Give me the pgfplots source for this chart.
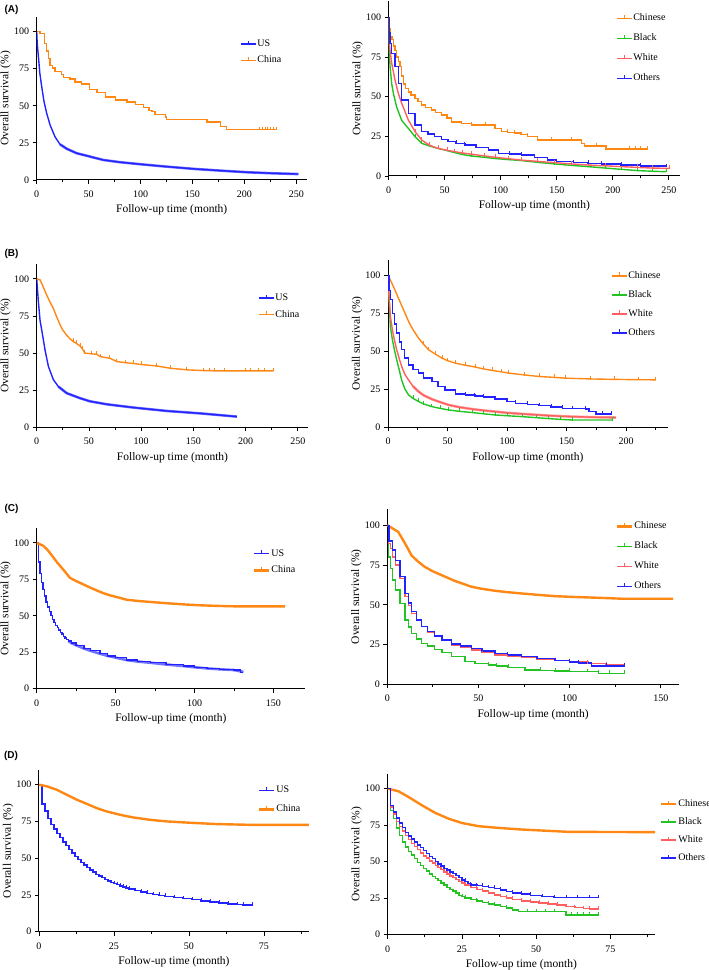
\documentclass[border=0pt]{standalone}
\usepackage{fontspec}
\setmainfont{Liberation Serif}
\newfontfamily\labelsans{Liberation Sans}
\usepackage{pgfplots}
\pgfplotsset{compat=1.18}
\definecolor{kmblue}{RGB}{35,35,255}
\definecolor{kmorange}{RGB}{255,135,20}
\definecolor{kmgreen}{RGB}{35,195,35}
\definecolor{kmred}{RGB}{255,95,95}
\pgfplotsset{
  km/.style={
    scale only axis, anchor=south west,
    axis lines*=left,
    axis line style={line width=1pt, black},
    xmin=0, ymin=0, ymax=110,
    ytick={0,25,50,75,100},
    minor x tick num=1,
    tick align=outside, tick pos=left,
    major tick length=4pt, minor tick length=2.5pt,
    tick style={black, line width=0.8pt},
    /pgf/number format/assume math mode=true,
    ticklabel style={font=\fontsize{10}{12}\selectfont},
    xticklabel style={yshift=-3.5pt},
    xlabel={Follow-up time (month)},
    ylabel={Overall survival (\%)},
    label style={font=\fontsize{11.5}{13}\selectfont},
    xlabel style={at={([yshift=-30pt]axis description cs:0.5,0)}, anchor=center},
    ylabel style={at={([xshift=-31pt]axis description cs:0,0.5)}, anchor=center},
    legend cell align=left,
    legend style={draw=none, fill=none, inner sep=0pt, outer sep=0pt, anchor=north west,
      font=\fontsize{10}{12}\selectfont, nodes={inner sep=1pt, text height=7pt, text depth=2pt}},
    legend image code/.code={
      \draw[#1, mark=none, solid] (0pt,0pt) -- (15pt,0pt);
      \draw[#1, mark=none, solid, line width=0.9pt] (7.5pt,0pt) -- (7.5pt,3.5pt);},
    every axis plot/.append style={line width=1.4pt},
  },
  cens/.style={mark=|, mark repeat=1, mark phase=#1, mark size=1.8pt,
    mark options={solid, line width=0.8pt, yshift=1.2pt}},
}
\begin{document}
\begin{tikzpicture}
\useasboundingbox (0,0) rectangle (709pt,970pt);
\node[font=\labelsans\bfseries\fontsize{10}{12}\selectfont] at (11.5pt,960.5pt) {(A)};
\node[font=\labelsans\bfseries\fontsize{10}{12}\selectfont] at (11.5pt,716.5pt) {(B)};
\node[font=\labelsans\bfseries\fontsize{10}{12}\selectfont] at (11.5pt,461.5pt) {(C)};
\node[font=\labelsans\bfseries\fontsize{10}{12}\selectfont] at (11pt,214pt) {(D)};

% ---------------- A left
\begin{axis}[km, at={(36.7pt,790pt)}, width=270pt, height=163.3pt, xmax=260, xtick distance=50,
  legend style={at={(axis description cs:0.753,0.866)}, row sep=5.3pt}]
\addplot[kmblue!65, line width=2.6pt, forget plot] coordinates {(22.5,24)(29,21)(38.6,18)(50,16)(64,13.5)(80,12)(100,10.6)(125,9)(151,7.5)(177,6.3)(203,5.2)(228,4.5)(252,4)};
\addplot[kmblue] coordinates {(0,100)(0.5,92)(1.6,83.5)(3,72)(4.8,63)(7,53)(9.6,45)(12.9,37)(17.7,29)(22.5,24)(29,21)(38.6,18)(50,16)(64,13.5)(80,12)(100,10.6)(125,9)(151,7.5)(177,6.3)(203,5.2)(228,4.5)(252,4)};
\addlegendentry{US}
\addplot[kmorange, const plot, cens=29] coordinates {(0,100)(3,98.6)(7.4,92)(9.6,87)(11.3,82)(12.9,77)(15.4,75.5)(17.7,73)(24,71)(25.7,69)(32,68)(37,66)(43,64.6)(51,61)(58,59)(66,56)(76,54)(87,52.5)(95,51)(103,49)(108,47)(111,46)(114,44)(124,42.5)(125,40.6)(164,39)(177,36)(183,34)(214,34)(217,34)(220,34)(222,34)(225,34)(228,34)(231,34)};
\addlegendentry{China}
\end{axis}

% ---------------- A right
\begin{axis}[km, at={(388.7pt,794pt)}, width=291.3pt, height=174.6pt, xmax=260, xtick distance=50,
  legend style={at={(axis description cs:0.78,0.935)}, row sep=9pt}]
\addplot[kmorange, const plot, cens=14] coordinates {(0,100)(0.5,93)(1.2,88)(3,86)(4.5,82)(5.6,79)(7,75)(8.5,72)(10,69)(11.5,63)(13,58)(15,55)(17.5,53)(20,51)(23.5,49)(26,47)(29.4,44.7)(33,43)(38,41.6)(42,40)(47,38.4)(52,36.5)(56,34)(65,33)(74,32)(86,32)(95,30)(100.6,28)(106,27.5)(112.5,27)(118,26)(124,25)(133,22.7)(145,22.7)(163,22.7)(172,20.6)(175,19)(185,19)(194,17)(215,17)(220,17)(225,17)(231,17)};
\addlegendentry{Chinese}
\addplot[kmgreen, cens=9] coordinates {(0,100)(0.5,80)(1.2,69)(2.7,58)(4.2,52)(7,43.7)(11.6,35)(17.5,30)(23.5,24.8)(29.4,20.6)(36,19)(44,17.4)(52,16)(59,14.7)(66,13.5)(74,12.6)(85,11.8)(95,11)(107,10.3)(118.5,9.7)(133,8.6)(148,7.6)(163,6.7)(178,5.9)(193,5)(207.5,4.2)(222,3.4)(235,3)(247.6,2.7)};
\addlegendentry{Black}
\addplot[kmred, cens=9] coordinates {(0,100)(0.5,85)(1.2,79)(2.7,71)(5.6,60.5)(8.6,52)(11.6,45.8)(17.5,35.3)(23.5,28)(29.4,22.7)(36,19.5)(44,17.4)(52,16.2)(59,15.3)(66,14.5)(74,13.7)(85,12.7)(95,11.8)(107,10.9)(118.5,10)(133,9.2)(148,8.4)(163,7.6)(178,6.9)(193,6.4)(207.5,5.9)(222,5.4)(235,5)(250.6,4.8)};
\addlegendentry{White}
\addplot[kmblue, const plot, cens=9] coordinates {(0,100)(0.5,90)(1.2,83.6)(2.7,77)(5.6,69)(8.6,58.4)(11.6,47.9)(17.5,39.5)(23.5,32)(29.4,28)(35,26.5)(41,24.8)(47,23)(53,21.6)(60,20.5)(68,19.5)(78,18)(89,16.4)(98,14.3)(108,13.8)(118.5,13.2)(130,11.8)(142,10)(150,9)(165,8.5)(178,8)(190,7.5)(207.5,6.9)(225,6.4)(248,5.9)};
\addlegendentry{Others}
\end{axis}

% ---------------- B left
\begin{axis}[km, at={(36.7pt,542.7pt)}, width=271.6pt, height=163.3pt, xmax=260, xtick distance=50,
  legend style={at={(axis description cs:0.815,0.8245)}, row sep=5.6pt}]
\addplot[kmblue!65, line width=2.6pt, forget plot] coordinates {(20.8,27.4)(28.7,23)(41.5,19.6)(51,17.5)(67,15.5)(92.6,13.3)(124.5,11)(156,9.4)(191.6,7.2)};
\addplot[kmblue] coordinates {(0,100)(1.6,84.7)(3.2,72)(4.8,65.6)(8,52)(11.2,41)(16,32)(20.8,27.4)(28.7,23)(41.5,19.6)(51,17.5)(67,15.5)(92.6,13.3)(124.5,11)(156,9.4)(191.6,7.2)};
\addlegendentry{US}
\addplot[kmorange, cens=12] coordinates {(0,100)(3.2,99.3)(6,95)(9.6,89)(13,84)(16,80)(19,74.6)(22.4,69)(25,65.5)(28.7,62)(32,59.5)(35,57.8)(38,56.5)(41.5,54.8)(44,52.5)(46,50)(52,49.5)(57.5,49.2)(60.7,47.6)(70,46.5)(76.6,44.3)(85,43.5)(92.6,43)(100,42.3)(115,41.3)(127.7,39.8)(143.7,38.7)(160,38.2)(165,38.2)(170,38)(180,38)(200,38)(205,38)(212,38)(218,38)(226.7,38)};
\addlegendentry{China}
\end{axis}

% ---------------- B right
\begin{axis}[km, at={(388pt,542.7pt)}, width=279.7pt, height=167.3pt, xmax=235, xtick distance=50,
  legend style={at={(axis description cs:0.797,0.938)}, row sep=8pt}]
\addplot[kmorange, cens=11] coordinates {(0,100)(3.1,95)(6,90)(8.7,85)(11.5,80)(14.3,75)(16.5,71)(18.6,67.5)(22,63)(25.6,58.7)(30,54.5)(34,51)(40,48)(45.3,45.5)(50,43.8)(56.5,42.2)(65,40.8)(73.4,39.6)(80,38.4)(87.5,37.4)(95,36.5)(101.5,35.6)(115,34.4)(126.9,33.4)(140,32.8)(149,32.3)(170,31.8)(190,31.5)(210,31.3)(225,31.2)};
\addlegendentry{Chinese}
\addplot[kmgreen, cens=11] coordinates {(0,100)(0.8,86)(2,66)(3.7,57.6)(5.5,50.5)(7.3,44.4)(9.5,37.5)(11.5,31)(14,25.5)(17.2,21.3)(21,19)(25.6,17)(30,15.3)(36.8,13.6)(44,12.4)(51,11.4)(60,10.5)(70.6,9.7)(80,8.9)(90.3,8.1)(100,7.6)(112.8,7)(125,6.3)(135,5.7)(145,5.2)(155,4.8)(188.7,4.8)};
\addlegendentry{Black}
\addplot[kmred!60, line width=2.6pt, forget plot] coordinates {(21,27)(25.6,23.5)(30,21)(36.8,18.5)(44,16.5)(51,14.7)(60,13.2)(70.6,12)(80,11.1)(90.3,10.3)(100,9.5)(112.8,8.8)(125,8.2)(135,7.7)(145,7.3)(155,7)(170,6.7)(191.6,6.4)};
\addplot[kmred] coordinates {(0,100)(0.8,88)(2,73)(3.7,64)(5.5,57)(7.3,51)(9.5,45)(11.5,40)(14,35)(17.2,31.2)(21,27)(25.6,23.5)(30,21)(36.8,18.5)(44,16.5)(51,14.7)(60,13.2)(70.6,12)(80,11.1)(90.3,10.3)(100,9.5)(112.8,8.8)(125,8.2)(135,7.7)(145,7.3)(155,7)(170,6.7)(191.6,6.4)};
\addlegendentry{White}
\addplot[kmblue, const plot, cens=11] coordinates {(0,100)(0.8,90)(2,84)(3.7,75)(5.5,68)(7.3,62)(9.5,56)(11.5,51)(14,45.5)(17.2,41)(21,38)(25.6,35.6)(30,32.5)(36.8,30)(42,27)(48,24.6)(56.5,22)(65,21.2)(73,20.7)(80,19.8)(90,18.5)(100,17)(107,15.8)(117,15)(127,14.3)(137,13.4)(146.6,12.5)(155,12.2)(166,12)(169,10.3)(174.7,8.8)(180,8.8)(187.3,8.8)};
\addlegendentry{Others}
\end{axis}

% ---------------- C left
\begin{axis}[km, at={(36.7pt,281.3pt)}, width=268.3pt, height=160.4pt, xmax=170, xtick distance=50,
  legend style={at={(axis description cs:0.806,0.876)}, row sep=5.7pt}]
\addplot[kmblue!65, line width=2.6pt, forget plot] coordinates {(20,32.8)(22,31.3)(25,29.8)(30,27.5)(34,26)(40,24)(45,22.5)(50,21.3)(57,19.6)(64,18.6)(72,17.8)(82,16.6)(93,15.5)(100,14.7)(108,13.9)(116,13.3)(125,12.8)(131,11.5)};
\addplot[kmblue, const plot] coordinates {(0,100)(1,86.8)(2,79)(3,73)(4,68)(5,63.5)(6,59.5)(7,56)(8,53)(9,50)(10,47.5)(11,45.5)(12,43.5)(13,41.8)(14,40.2)(15,38.7)(16,37.4)(17,36)(18,34.8)(19,33.7)(20,32.8)(22,31.3)(25,29.8)(30,27.5)(34,26)(40,24)(45,22.5)(50,21.3)(57,19.6)(64,18.6)(72,17.8)(82,16.6)(93,15.5)(100,14.7)(108,13.9)(116,13.3)(125,12.8)(129,11)(131,11)};
\addlegendentry{US}
\addplot[kmorange, line width=2.4pt] coordinates {(0,100)(4.2,98)(7,95)(10.6,90)(13,86.5)(15.8,83)(18.5,79.5)(21.1,76)(25,73.8)(29.6,71.5)(34,69.3)(38,67.4)(42,65.6)(46.5,64)(52,62.5)(57,61)(64,60.2)(71.8,59.5)(80,58.8)(86.6,58.3)(95,57.7)(103.5,57.2)(114,56.8)(124.7,56.5)(157.4,56.5)};
\addlegendentry{China}
\end{axis}

% ---------------- C right
\begin{axis}[km, at={(387.3pt,285.7pt)}, width=291.7pt, height=175pt, xmax=160, xtick distance=50,
  legend style={at={(axis description cs:0.784,0.934)}, row sep=9pt}]
\addplot[kmorange, line width=2.4pt] coordinates {(0,100)(6,95.8)(10,88)(13.3,81)(17,77)(20.6,73.8)(25,71)(29.8,68.6)(33,67)(37,65)(42,63)(46.2,61.3)(52,60)(59,58.8)(66,57.9)(73.6,57.1)(83,56.2)(92,55.4)(100,55)(110,54.6)(120,54.2)(128.4,53.8)(156.8,53.8)};
\addlegendentry{Chinese}
\addplot[kmgreen, const plot, cens=13] coordinates {(0,100)(0.5,80)(1.6,72.8)(2.9,65.5)(4.6,59.2)(7,50.8)(9.7,40.4)(11.5,36)(13.3,32)(16,28.5)(18.8,25.7)(22,24)(26,22)(30,19.8)(35.3,17.4)(42.6,14.2)(48,13)(55.4,12.1)(60,11.5)(66.3,10.7)(75.5,9)(84,8.7)(92,8.4)(100,8.1)(110,7.9)(115.7,6.9)(122,6.9)(130,6.9)};
\addlegendentry{Black}
\addplot[kmred, const plot, cens=12] coordinates {(0,100)(0.5,88.5)(1.6,85.4)(2.9,80)(4.6,74.9)(7,66.5)(9.7,55)(11.5,49.5)(13.3,44.6)(16,40)(18.8,36.2)(22,32.8)(26,29.9)(30,27.5)(35.3,24.7)(40,23)(46.2,21.5)(52,20)(59,18.4)(66,17.6)(73.6,16.7)(82,15.8)(92,14.9)(100,14.1)(110,13.2)(120,12.4)(130,11.7)};
\addlegendentry{White}
\addplot[kmblue, const plot, cens=11] coordinates {(0,100)(1,90)(2.9,84.3)(4.6,78)(7,67.6)(9.7,57)(11.5,51)(13.3,45.6)(16,40.5)(18.8,36.2)(22,33)(26,30.3)(30,27.8)(35.3,25.3)(40,24)(46.2,22.6)(52,21)(59,19.5)(66,18.5)(73.6,17.4)(82,16.2)(92,14.9)(100,14)(105,13.5)(112,11.5)(120,11.5)(130,11.5)};
\addlegendentry{Others}
\end{axis}

% ---------------- D left
\begin{axis}[km, at={(39pt,38.3pt)}, width=270pt, height=161.7pt, xmax=90, xtick distance=25,
  legend style={at={(axis description cs:0.811,0.908)}, row sep=8pt}]
\addplot[kmblue, const plot, cens=26] coordinates {(0,100)(1,87)(2,82)(3,77)(4,73)(5,70)(6,67)(7,64)(8,61)(9,58.5)(10,56)(11,53.5)(12,51)(13,49)(14,47)(15,45.5)(16,43.5)(17,42)(18,40.5)(19,39)(20,38)(21,36.7)(22,35.5)(23,34.5)(24,33.5)(25,32.7)(26,32)(27,31)(28,30.3)(29,29.6)(30,29)(32,28)(34,27)(36,26)(38,25.3)(40,24.7)(42,24)(45,23.2)(48,22.4)(51,21.8)(54,21)(57,20.3)(60,19.6)(63,18.9)(66,18.3)(68,18.2)(71,18.2)};
\addlegendentry{US}
\addplot[kmorange, line width=2.4pt] coordinates {(0,100)(2.6,98.9)(5.9,96.6)(9.2,93.2)(12.6,89.8)(15.9,87)(19.3,84)(22.6,81.8)(27.1,79.5)(31.5,77.7)(37.1,76.1)(42.7,75)(50.5,74.1)(59.4,73.2)(70.5,72.7)(90,72.7)};
\addlegendentry{China}
\end{axis}

% ---------------- D right
\begin{axis}[km, at={(387.7pt,35.3pt)}, width=267.3pt, height=160.7pt, xmax=90, xtick distance=25,
  legend style={at={(axis description cs:1.019,0.847)}, row sep=7pt}]
\addplot[kmorange, line width=2.4pt] coordinates {(0,100)(3.6,98.2)(7,94.3)(11.5,88.6)(16,83.4)(20.4,79.5)(24.9,76.5)(30.5,74.3)(37.3,73.1)(45.1,72)(51.9,71.3)(60.9,70.4)(90,70.2)};
\addlegendentry{Chinese}
\addplot[kmgreen, const plot, cens=26] coordinates {(0,100)(1,85)(2,79.5)(3,73)(4,68)(5,63.5)(6,60)(7,57)(8,54.5)(9,52)(10,49.5)(11,47.5)(12,45.5)(13,43.5)(14,41.5)(15,40)(16,38.5)(17,37)(18,35.5)(19,34)(20,32.5)(21,31)(22,30)(23,28.5)(24,27)(25,26)(26,25)(28,24)(30,23)(32,22)(34,21)(36,20.3)(38,19.3)(40,18.3)(42,17)(44,15.7)(47,15.7)(50,15.7)(53,15.7)(56,15.7)(60,13.4)(62,13.4)(64,13.4)(66,13.4)(68,13.4)(71,13.4)};
\addlegendentry{Black}
\addplot[kmred, const plot, cens=26] coordinates {(0,100)(1,87.5)(2,82.5)(3,77.5)(4,74)(5,71)(6,68)(7,65)(8,62.5)(9,60.5)(10,58.5)(11,56)(12,54)(13,52.5)(14,50.5)(15,49)(16,47.5)(17,46)(18,44.5)(19,43)(20,41.5)(21,40.3)(22,39)(23,37.8)(24,36.5)(25,35.3)(26,34)(28,32.5)(30,31)(32,29.8)(34,28.5)(36,27.2)(38,26)(40,25)(42,24.2)(45,23.2)(48,22.5)(51,21.8)(54,21)(57,20.2)(60,19.3)(63,18.5)(66,17.8)(68,17.5)(71,17.5)};
\addlegendentry{White}
\addplot[kmblue, const plot, cens=26] coordinates {(0,100)(1,88.5)(2,84)(3,80)(4,76.5)(5,73.5)(6,70)(7,67.5)(8,65.5)(9,63.5)(10,61.5)(11,59.5)(12,57.5)(13,55.5)(14,53.5)(15,52)(16,50)(17,48.5)(18,47)(19,45.5)(20,44.3)(21,43)(22,42)(23,40.5)(24,39)(25,37.5)(26,36.5)(27,35)(28,34)(30,33.5)(32,33)(34,32.3)(36,31.7)(38,30.5)(40,29.5)(42,28.6)(45,27.8)(48,27)(52,26)(56,25.3)(60,25.3)(64,25.3)(68,25.3)(71,25.3)};
\addlegendentry{Others}
\end{axis}
\end{tikzpicture}
\end{document}
